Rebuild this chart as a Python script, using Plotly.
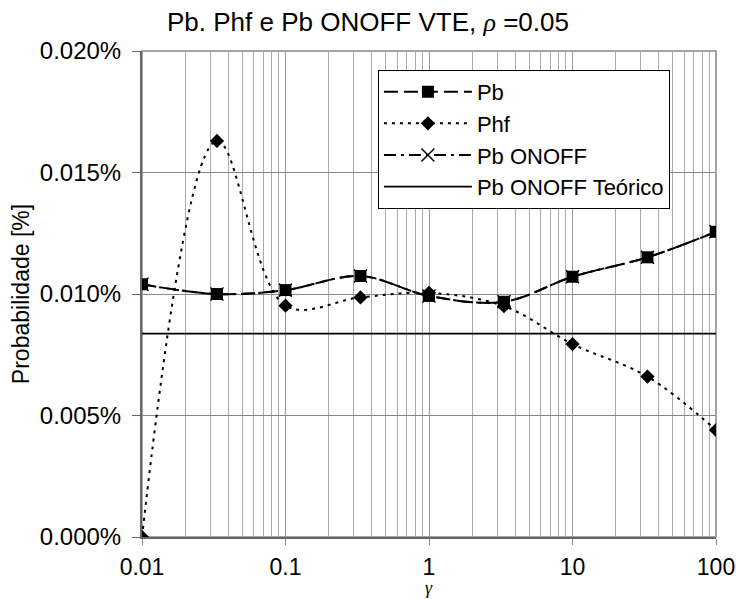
import plotly.graph_objects as go

gamma = [0.01, 0.0333, 0.1, 0.333, 1, 3.33, 10, 33.3, 100]
pb = [0.0104, 0.0100, 0.01016, 0.01074, 0.00992, 0.00968, 0.01071, 0.01151, 0.01256]
phf = [0.0000, 0.0163, 0.00952, 0.00986, 0.01005, 0.0095, 0.00794, 0.0066, 0.0044]
pb_onoff = [0.0104, 0.0100, 0.01016, 0.01074, 0.00992, 0.00968, 0.01071, 0.01151, 0.01256]
pb_teorico = [0.00837] * len(gamma)

y_ticks = [0.0, 0.005, 0.010, 0.015, 0.020]
y_ticktext = ["0.000%", "0.005%", "0.010%", "0.015%", "0.020%"]
x_ticks = [0.01, 0.1, 1, 10, 100]
x_ticktext = ["0.01", "0.1", "1", "10", "100"]
minor_vals = [m * 10 ** e for e in range(-2, 2) for m in range(2, 10)]

font = "Liberation Sans, Arial, sans-serif"
greek = "Liberation Serif, Times New Roman, serif"

fig = go.Figure()
fig.add_trace(go.Scatter(
    x=gamma, y=pb, name="Pb", mode="lines+markers",
    line=dict(color="black", width=2, dash="14px,6px", shape="spline", smoothing=1),
    marker=dict(symbol="square", size=12, color="black"),
))
fig.add_trace(go.Scatter(
    x=gamma, y=phf, name="Phf", mode="lines+markers",
    line=dict(color="black", width=2, dash="3px,5px", shape="spline", smoothing=1),
    marker=dict(symbol="diamond", size=11, color="black"),
))
fig.add_trace(go.Scatter(
    x=gamma, y=pb_onoff, name="Pb ONOFF", mode="lines+markers",
    line=dict(color="black", width=2, dash="12px,5px,3px,5px", shape="spline", smoothing=1),
    marker=dict(symbol="x-thin-open", size=13, color="black", line=dict(color="black", width=1.5)),
))
fig.add_trace(go.Scatter(
    x=gamma, y=pb_teorico, name="Pb ONOFF Teórico", mode="lines",
    line=dict(color="black", width=1.8),
))

fig.update_layout(
    width=736, height=599,
    paper_bgcolor="white", plot_bgcolor="white",
    margin=dict(l=142, r=20, t=51, b=62, autoexpand=False),
    font=dict(family=font, size=23, color="black"),
    title=dict(text=f"Pb. Phf e Pb ONOFF VTE, <span style='font-family:{greek}'><i>ρ</i></span> =0.05",
               x=0.5, xanchor="center", y=0.963, yanchor="middle", font=dict(size=26)),
    showlegend=True,
    legend=dict(x=0.411, y=0.961, xanchor="left", yanchor="top",
                bordercolor="black", borderwidth=1, bgcolor="white",
                font=dict(size=22), tracegroupgap=0, itemwidth=88),
    xaxis=dict(
        type="log", range=[-2, 2],
        tickvals=x_ticks, ticktext=x_ticktext,
        showgrid=True, gridcolor="#999999", gridwidth=1,
        minor=dict(tickvals=minor_vals, showgrid=True, gridcolor="#aaaaaa", gridwidth=1),
        ticks="outside", ticklen=6, tickcolor="#888888",
        ticklabelstandoff=2,
        tickfont=dict(size=23),
        showline=True, linecolor="#666666", linewidth=2, mirror=False,
        zeroline=False, automargin=False,
    ),
    yaxis=dict(
        range=[0, 0.020],
        tickvals=y_ticks, ticktext=y_ticktext,
        showgrid=True, gridcolor="#888888", gridwidth=1,
        ticks="outside", ticklen=8, tickcolor="#666666",
        tickfont=dict(size=24),
        ticklabelstandoff=6,
        showline=True, linecolor="#666666", linewidth=2,
        zeroline=False, automargin=False,
        title=dict(text="Probabilidade [%]", standoff=4, font=dict(size=23)),
    ),
    annotations=[dict(text="<i>γ</i>", xref="paper", yref="paper", x=0.5, y=-0.1275,
                      xanchor="center", yanchor="bottom", showarrow=False, borderpad=0,
                      font=dict(size=18, family=greek))],
)
fig.add_shape(type="rect", xref="paper", yref="paper", x0=0, y0=0, x1=1, y1=1,
              line=dict(color="#888888", width=1.5), layer="below")

fig.write_html(
    "out.html",
    config={"displayModeBar": False},
    post_script="document.documentElement.style.overflow='hidden';"
                "document.body.style.margin='0';document.body.style.overflow='hidden';",
)
